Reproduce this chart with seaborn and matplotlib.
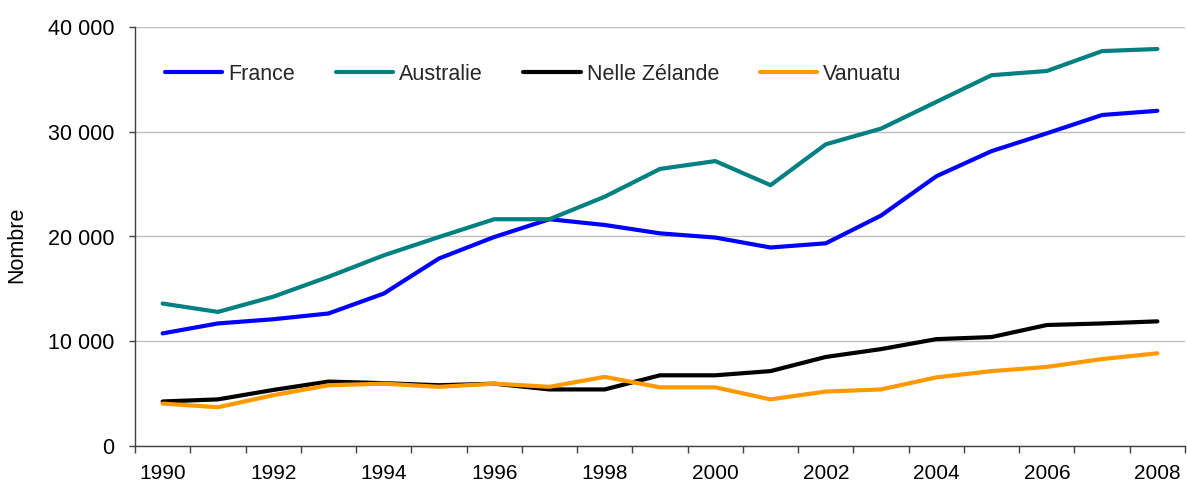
import numpy as np
import pandas as pd
import matplotlib
matplotlib.use("Agg")
import matplotlib.pyplot as plt
import seaborn as sns
from matplotlib.ticker import FuncFormatter, FixedLocator

# values
years = list(range(1990, 2009))
france = [10750, 11700, 12100, 12650, 14550, 17900, 19950, 21650, 21100, 20300,
          19900, 18950, 19350, 22000, 25750, 28150, 29850, 31600, 32000]
australie = [13600, 12800, 14250, 16150, 18200, 19950, 21650, 21650, 23800, 26450,
             27200, 24900, 28800, 30300, 32850, 35400, 35800, 37700, 37900]
nelle_zelande = [4250, 4450, 5350, 6150, 6000, 5800, 5950, 5400, 5400, 6750,
                 6750, 7150, 8500, 9250, 10200, 10400, 11550, 11700, 11900]
vanuatu = [4050, 3700, 4850, 5800, 5950, 5650, 5950, 5650, 6600, 5600,
           5600, 4450, 5200, 5400, 6550, 7150, 7550, 8300, 8850]
series_names = ["France", "Australie", "Nelle Zélande", "Vanuatu"]
colors = ["#0000FF", "#008080", "#000000", "#FF9900"]
label_years = list(range(1990, 2009, 2))

df = pd.DataFrame({
    "Année": years * 4,
    "Nombre": france + australie + nelle_zelande + vanuatu,
    "Pays": sum([[n] * len(years) for n in series_names], []),
})

sns.set_theme(style="white")
plt.rcParams["font.family"] = ["Liberation Sans", "DejaVu Sans"]

fig = plt.figure(figsize=(11.87, 4.86), dpi=100)
ax = fig.add_axes([135 / 1187, 1 - 446 / 486, 1050 / 1187, 419 / 486])

sns.lineplot(data=df, x="Année", y="Nombre", hue="Pays", hue_order=series_names,
             palette=dict(zip(series_names, colors)), linewidth=3,
             solid_capstyle="round", ax=ax)

ax.set_xlim(1989.5, 2008.5)
ax.set_ylim(0, 40000)
ax.set_yticks([0, 10000, 20000, 30000, 40000])
ax.yaxis.set_major_formatter(FuncFormatter(lambda v, p: f"{int(v):,}".replace(",", " ")))
ax.grid(axis="y", color="#BFBFBF", linewidth=1)
ax.set_axisbelow(True)

# ticks between years, labels every second year
ax.xaxis.set_major_locator(FixedLocator(np.arange(1989.5, 2009, 1)))
ax.xaxis.set_major_formatter(FuncFormatter(lambda v, p: ""))
ax.xaxis.set_minor_locator(FixedLocator(label_years))
ax.xaxis.set_minor_formatter(FuncFormatter(lambda v, p: f"{int(round(v))}"))
ax.tick_params(axis="x", which="major", direction="out", length=5, width=1,
               color="#404040", bottom=True)
ax.tick_params(axis="x", which="minor", length=0, pad=13, labelsize=15,
               labelcolor="black", bottom=True)
ax.tick_params(axis="y", direction="out", length=4, width=1, color="#404040",
               pad=11, labelsize=15.5, labelcolor="black", left=True)

for side in ["top", "right"]:
    ax.spines[side].set_visible(False)
for side in ["left", "bottom"]:
    ax.spines[side].set_color("#404040")
    ax.spines[side].set_linewidth(1)

ax.set_xlabel("")
ax.set_ylabel("Nombre", fontsize=15.5, color="black")
ax.yaxis.set_label_coords(-0.103, 0.48)

ax.legend(loc="center left", bbox_to_anchor=(30 / 1050, (446 - 74) / 419),
          ncol=4, frameon=False, fontsize=15.5, handlelength=2.65,
          handletextpad=0.28, columnspacing=1.9, borderpad=0, borderaxespad=0)

fig.savefig("out.png", dpi=100)
